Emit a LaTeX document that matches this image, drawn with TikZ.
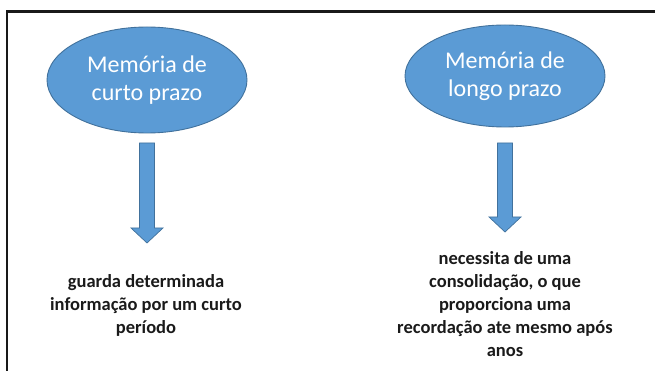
\documentclass[tikz,border=0pt]{standalone}
\usepackage{fontspec}
\setmainfont{Carlito}
\usetikzlibrary{calc,shapes.geometric}
\definecolor{mblue}{HTML}{5B9BD5}
\definecolor{mline}{HTML}{41719C}
\definecolor{mtext}{HTML}{1A1A1A}
\tikzset{
  memo/.style={ellipse, draw=mline, fill=mblue, line width=0.9pt, text=white,
    align=center, inner sep=0pt, font=\fontsize{24}{28.5}\selectfont},
  desc/.style={align=center, text=mtext, inner sep=0pt,
    font=\fontsize{18.5}{23}\selectfont\bfseries},
  blockarrow/.style={draw=mline, fill=mblue, line width=0.7pt,
    to path={let \p1=(\tikztostart), \p2=(\tikztotarget) in
      (\x1-7.5pt,\y1) -- (\x1+7.5pt,\y1) -- (\x1+7.5pt,\y2+15pt) -- (\x1+16pt,\y2+15pt)
      -- (\x1,\y2) -- (\x1-16pt,\y2+15pt) -- (\x1-7.5pt,\y2+15pt) -- cycle}},
  frame/.style={line width=2.8pt, draw=black!90}
}
\begin{document}
\begin{tikzpicture}[x=1pt,y=-1pt]
\useasboundingbox (0,0) rectangle (655,371);
\draw[frame] (7,372) -- (7,11.5) -- (656,11.5);
\node[memo, minimum width=200pt, minimum height=106pt] (e1) at (147,80) {Memória de\\curto prazo};
\node[memo, minimum width=200pt, minimum height=102pt] (e2) at (505,76) {Memória de\\longo prazo};
\coordinate (a1s) at (147,143);
\coordinate (a1e) at (147,243);
\coordinate (a2s) at (505,143);
\coordinate (a2e) at (505,232);
\draw[blockarrow] (a1s) to (a1e);
\draw[blockarrow] (a2s) to (a2e);
\node[desc] (t1) at (146,305) {guarda determinada\\informação por um curto\\período};
\node[desc] (t2) at (505,304) {necessita de uma\\consolidação, o que\\proporciona uma\\recordação ate mesmo após\\anos};
\end{tikzpicture}
\end{document}
